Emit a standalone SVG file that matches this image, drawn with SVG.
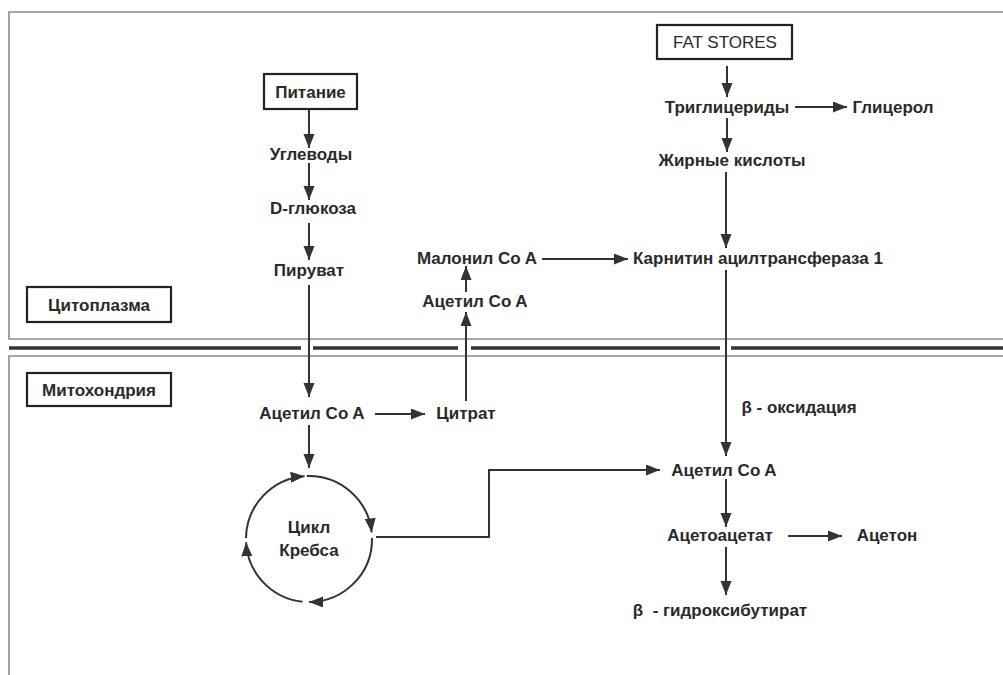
<svg xmlns="http://www.w3.org/2000/svg" width="1003" height="675" viewBox="0 0 1003 675">
<defs>
<marker id="ah" markerUnits="userSpaceOnUse" markerWidth="15" markerHeight="12" refX="14" refY="5.5" orient="auto">
<path d="M0,0 L14,5.5 L0,11 z" fill="#333"/>
</marker>
<style>
text{font-family:"Liberation Sans",Arial,sans-serif;font-size:17px;font-weight:bold;fill:#2a2a2a;text-anchor:middle;dominant-baseline:central}
.frame{stroke:#8a8a8a;stroke-width:1.6;fill:none}
.mem{stroke:#333;stroke-width:3.5;fill:none}
.box{stroke:#222;stroke-width:2.2;fill:#fff}
.a{stroke:#333;stroke-width:2;fill:none;marker-end:url(#ah)}
</style>
</defs>
<rect width="1003" height="675" fill="#fff"/>
<g id="compartments">
<polyline class="frame" points="1003,12 9,12 9,339 1003,339"/>
<polyline class="frame" points="1003,356 9,356 9,675"/>
<path class="mem" d="M9,348 H301 M313,348 H458 M471,348 H720 M731,348 H1003"/>
</g>
<g id="connectors">
<line class="a" x1="309" y1="110" x2="309" y2="148"/>
<line class="a" x1="309" y1="163" x2="309" y2="200"/>
<line class="a" x1="309" y1="223" x2="309" y2="260"/>
<line class="a" x1="309" y1="285" x2="309" y2="397"/>
<line class="a" x1="309" y1="425" x2="309" y2="468"/>
<line class="a" x1="375" y1="414" x2="425" y2="414"/>
<line class="a" x1="466" y1="401" x2="466" y2="312"/>
<line class="a" x1="466" y1="292" x2="466" y2="266"/>
<line class="a" x1="542" y1="259" x2="628" y2="259"/>
<line class="a" x1="727" y1="66" x2="727" y2="97"/>
<line class="a" x1="795" y1="107" x2="847" y2="107"/>
<line class="a" x1="727" y1="118" x2="727" y2="152"/>
<line class="a" x1="726" y1="172" x2="726" y2="248"/>
<line class="a" x1="726" y1="270" x2="726" y2="456"/>
<polyline class="a" points="376,537 489,537 489,470 660,470"/>
<line class="a" x1="726" y1="479" x2="726" y2="527"/>
<line class="a" x1="788" y1="536" x2="842" y2="536"/>
<line class="a" x1="726" y1="547" x2="726" y2="595"/>
<path class="a" d="M246,537.9 A63,63 0 0 1 304.6,476.2"/>
<path class="a" d="M306.8,476 A63,63 0 0 1 371.65,532.4"/>
<path class="a" d="M372,537.9 A63,63 0 0 1 309,602"/>
<path class="a" d="M302.4,601.7 A63,63 0 0 1 246.1,542.3"/>
</g>
<g id="n-cyto"><rect class="box" x="27" y="287" width="144" height="35"/><text x="99" y="305">Цитоплазма</text></g>
<g id="n-mito"><rect class="box" x="27" y="373" width="144" height="33"/><text x="99" y="390">Митохондрия</text></g>
<g id="n-pitanie"><rect class="box" x="264" y="74" width="93" height="35"/><text x="310.5" y="92">Питание</text></g>
<g id="n-uglevody"><text x="311" y="154">Углеводы</text></g>
<g id="n-glucose"><text x="313" y="208">D-глюкоза</text></g>
<g id="n-pyruvate"><text x="309" y="270">Пируват</text></g>
<g id="n-acetyl-mito"><text x="312" y="413">Ацетил Co A</text></g>
<g id="n-citrate"><text x="466" y="413">Цитрат</text></g>
<g id="n-acetyl-cyto"><text x="475" y="301">Ацетил Co A</text></g>
<g id="n-malonyl"><text x="477" y="258">Малонил Co A</text></g>
<g id="n-carnitine"><text x="758" y="258">Карнитин ацилтрансфераза 1</text></g>
<g id="n-fatstores"><rect class="box" x="657" y="25" width="135" height="34"/><text x="725" y="42" style="font-weight:normal;font-size:17px">FAT STORES</text></g>
<g id="n-tg"><text x="727" y="107">Триглицериды</text></g>
<g id="n-glycerol"><text x="893" y="107">Глицерол</text></g>
<g id="n-fa"><text x="732" y="160">Жирные кислоты</text></g>
<g id="n-betaox"><text x="799" y="407">β - оксидация</text></g>
<g id="n-krebs"><text x="309" y="527">Цикл</text><text x="309" y="550">Кребса</text></g>
<g id="n-acetyl-right"><text x="724" y="470">Ацетил Co A</text></g>
<g id="n-acetoacetate"><text x="720" y="535">Ацетоацетат</text></g>
<g id="n-acetone"><text x="887" y="535">Ацетон</text></g>
<g id="n-hb"><text x="720" y="610" xml:space="preserve">β  - гидроксибутират</text></g>
</svg>
